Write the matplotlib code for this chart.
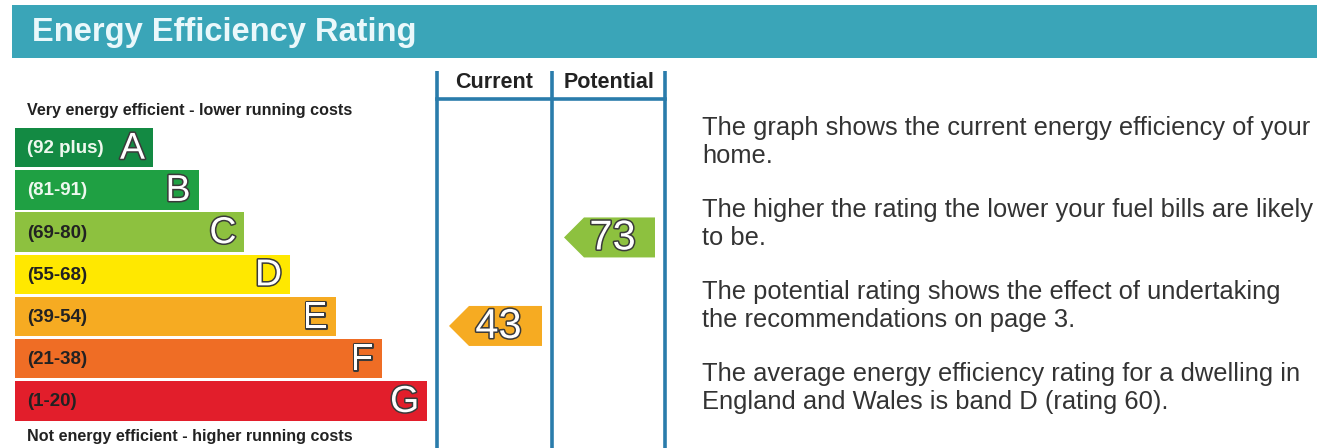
import matplotlib
matplotlib.use("Agg")
import matplotlib.pyplot as plt
import matplotlib.patheffects as pe

# data
bands = ["A", "B", "C", "D", "E", "F", "G"]
range_labels = ["(92 plus)", "(81-91)", "(69-80)", "(55-68)", "(39-54)", "(21-38)", "(1-20)"]
band_low = [92, 81, 69, 55, 39, 21, 1]
band_high = [100, 91, 80, 68, 54, 38, 20]
band_colors = ["#138a43", "#1fa043", "#8dc13f", "#ffe800", "#f6ab22", "#ef6d25", "#e21e2b"]
label_colors = ["#eef8ee", "#eef8ee", "#222222", "#222222", "#222222", "#222222", "#222222"]
current = 43
potential = 73
notes = [
    "The graph shows the current energy efficiency of your\nhome.",
    "The higher the rating the lower your fuel bills are likely\nto be.",
    "The potential rating shows the effect of undertaking\nthe recommendations on page 3.",
    "The average energy efficiency rating for a dwelling in\nEngland and Wales is band D (rating 60).",
]

plt.rcParams['font.family'] = ['Liberation Sans', 'DejaVu Sans']

fig = plt.figure(figsize=(13.17, 4.48), dpi=100)
ax = fig.add_axes([0, 0, 1, 1])
ax.set_xlim(0, 1317)
ax.set_ylim(448, 0)
ax.axis("off")

# title bar
ax.add_patch(plt.Rectangle((12, 5), 1310, 53, color="#3aa5b8", lw=0))
ax.text(32, 41, "Energy Efficiency Rating", fontsize=23.5, fontweight="bold",
        color="#eaf8fb", va="baseline", ha="left")

# rating bars
top0, pitch, bh = 128, 42.2, 39.5
x0, w0, dw = 15, 138, 45.7
tops = [top0 + pitch * i for i in range(len(bands))]
widths = [w0 + dw * i for i in range(len(bands))]
ax.barh([t + bh / 2 for t in tops], widths, height=bh, left=x0, color=band_colors, lw=0)

outline = [pe.withStroke(linewidth=2.2, foreground="#3a3a3a")]
for i, b in enumerate(bands):
    yc = tops[i] + bh / 2
    ax.text(x0 + 12, yc + 1, range_labels[i], fontsize=13.5, fontweight="bold",
            color=label_colors[i], va="center", ha="left")
    ax.text(x0 + widths[i] - 8, yc + 1, b, fontsize=27, color="white",
            va="center", ha="right", path_effects=outline)

ax.text(27, 110, "Very energy efficient - lower running costs", fontsize=11.6,
        fontweight="bold", color="#222222", va="center")
ax.text(27, 437, "Not energy efficient - higher running costs", fontsize=11.6,
        fontweight="bold", color="#222222", va="center")

# table columns
line_col = "#2a7cab"
col_x = [437, 552, 665]
for cx in col_x:
    ax.plot([cx, cx], [71, 448], color=line_col, lw=2.6, solid_capstyle="butt")
ax.plot([col_x[0], col_x[2]], [99, 99], color=line_col, lw=2.6)
ax.text((col_x[0] + col_x[1]) / 2, 83, "Current", fontsize=15.5, fontweight="bold",
        color="#222222", ha="center", va="center")
ax.text((col_x[1] + col_x[2]) / 2 + 1, 83, "Potential", fontsize=15.5, fontweight="bold",
        color="#222222", ha="center", va="center")


def band_of(v):
    for i in range(len(bands)):
        if band_low[i] <= v <= band_high[i]:
            return i
    return len(bands) - 1


def arrow(value, left, right):
    i = band_of(value)
    frac = (band_high[i] - value) / (band_high[i] - band_low[i] + 1)
    yc = tops[i] + frac * bh + 2
    h = 40
    tip = left + 12
    xs = [tip, tip + 20, right - 10, right - 10, tip + 20]
    ys = [yc, yc - h / 2, yc - h / 2, yc + h / 2, yc + h / 2]
    ax.fill(xs, ys, color=band_colors[i], lw=0)
    ax.text((tip + right - 10) / 2 + 3, yc + 1, str(value), fontsize=30,
            color="white", ha="center", va="center", path_effects=outline)


arrow(current, col_x[0], col_x[1])
arrow(potential, col_x[1], col_x[2])

# notes, one text per line
y = 135
for n in notes:
    for k, line in enumerate(n.split("\n")):
        ax.text(702, y + 28 * k, line, fontsize=18.4, color="#333333",
                ha="left", va="baseline")
    y += 82

fig.savefig("out.png", dpi=100)
